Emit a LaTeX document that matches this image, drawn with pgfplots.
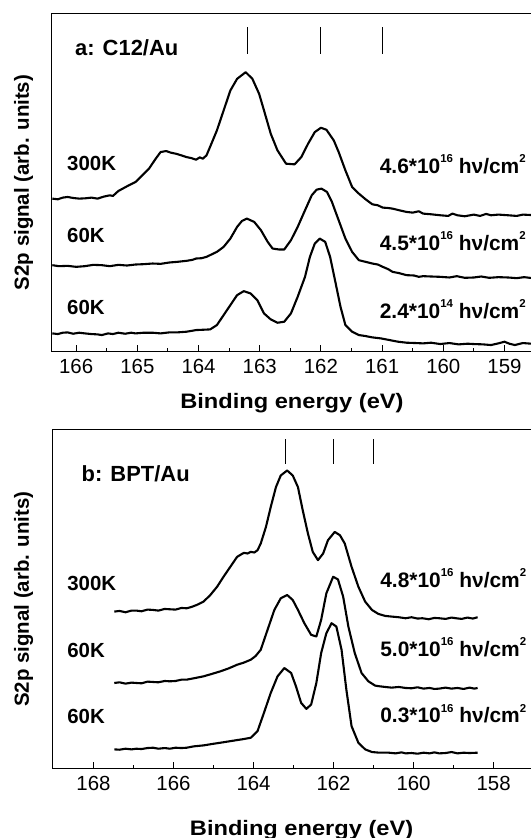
\documentclass[border=0pt]{standalone}
\usepackage{fontspec}
\setmainfont{Liberation Sans}
\usepackage{graphicx}
\usepackage{pgfplots}
\pgfplotsset{compat=1.18}

\newcommand\sups[1]{\raisebox{0.5em}{\fontsize{11.5}{12}\selectfont #1}}

\pgfplotsset{
  xps/.style={
    scale only axis,
    x dir=reverse,
    axis line style={line width=1bp},
    xtick pos=left,
    tick align=inside,
    ytick=\empty,
    minor x tick num=1,
    major tick length=6.7bp, minor tick length=3.3bp,
    every tick/.style={black, line width=1bp},
    /pgf/number format/assume math mode=true,
    /pgf/number format/1000 sep={},
    xticklabel style={font=\fontsize{20.5}{24}\selectfont, yshift=-4.5bp},
  },
  curve/.style={black, line width=2.1bp, no markers, line join=round},
}
\tikzset{
  lab/.style={font=\fontsize{20.5}{24}\selectfont\bfseries, inner sep=0pt},
  ttl/.style={font=\fontsize{22}{24}\selectfont\bfseries, inner sep=0pt},
  dose/.style={font=\fontsize{21}{24}\selectfont\bfseries, inner sep=0pt},
  xlab/.style={font=\fontsize{21}{24}\selectfont\bfseries, inner sep=0pt},
}

\begin{document}
\begin{tikzpicture}
\useasboundingbox (0,0) rectangle (531bp,838bp);

% ---------------- panel a: C12/Au ----------------
\begin{axis}[xps,
  at={(51.7bp,486.3bp)}, anchor=south west,
  width=484.3bp, height=338.4bp,
  xmin=158.485, xmax=166.40, ymin=0, ymax=1017,
  xtick={159,160,...,166},
  xlabel={\scalebox{1.13}[1]{Binding energy (eV)}},
  ylabel={S2p signal (arb. units)},
  every axis x label/.style={xlab, at={(axis description cs:0.496,-0.122)}, anchor=north},
  every axis y label/.style={lab, at={(axis description cs:-0.038,0.5)}, rotate=90, anchor=south},
]
% 300K, 4.6e16
\addplot[curve] coordinates {
(166.39,460) (166.30,458) (166.22,463) (166.14,465) (166.05,462) (165.95,460)
(165.85,461) (165.75,463) (165.65,460) (165.55,466) (165.45,470) (165.40,468)
(165.31,483) (165.14,500) (165.03,510) (164.92,530) (164.81,550) (164.70,580)
(164.62,600) (164.53,603) (164.45,598) (164.37,595) (164.28,590) (164.20,585)
(164.12,582) (164.04,577) (163.98,584) (163.93,580) (163.87,590) (163.79,625)
(163.70,665) (163.59,725) (163.48,785) (163.37,820) (163.23,840) (163.12,820)
(163.01,775) (162.93,725) (162.82,655) (162.71,605) (162.57,565) (162.43,563)
(162.32,585) (162.21,625) (162.10,660) (162.00,673) (161.91,667) (161.79,635)
(161.71,600) (161.60,545) (161.49,495) (161.38,475) (161.27,458) (161.16,443)
(161.07,440) (160.99,433) (160.91,432) (160.83,430) (160.72,425) (160.60,420)
(160.50,418) (160.40,422) (160.33,415) (160.20,413) (160.05,410) (159.92,408)
(159.85,415) (159.77,410) (159.65,407) (159.50,412) (159.40,408) (159.30,414)
(159.22,410) (159.10,412) (158.94,410) (158.80,408) (158.70,412) (158.49,410)
};
% 60K, 4.5e16
\addplot[curve] coordinates {
(166.39,260) (166.28,257) (166.14,258) (166.00,255) (165.86,257) (165.72,261)
(165.58,260) (165.45,257) (165.31,261) (165.17,259) (165.03,262) (164.90,263)
(164.75,265) (164.62,264) (164.48,268) (164.35,270) (164.20,273) (164.10,276)
(164.04,280) (163.95,281) (163.87,285) (163.70,300) (163.59,315) (163.48,340)
(163.37,375) (163.29,393) (163.21,400) (163.09,390) (162.98,365) (162.87,330)
(162.79,310) (162.68,307) (162.60,307) (162.49,335) (162.38,375) (162.26,425)
(162.15,470) (162.07,487) (161.99,490) (161.90,480) (161.82,450) (161.71,395)
(161.60,340) (161.49,300) (161.38,275) (161.27,270) (161.16,265) (161.07,262)
(160.99,255) (160.90,248) (160.83,240) (160.72,236) (160.60,230) (160.48,229)
(160.40,225) (160.33,227) (160.20,226) (160.05,225) (159.90,223) (159.78,227)
(159.65,222) (159.50,223) (159.38,226) (159.25,222) (159.10,224) (158.94,223)
(158.80,221) (158.68,224) (158.49,220)
};
% 60K, 2.4e14
\addplot[curve] coordinates {
(166.39,55) (166.30,53) (166.22,57) (166.14,58) (166.05,54) (165.95,57)
(165.86,55) (165.75,53) (165.65,52) (165.58,50) (165.48,55) (165.40,53)
(165.31,57) (165.20,54) (165.10,57) (165.03,55) (164.90,57) (164.75,57)
(164.62,55) (164.48,58) (164.35,58) (164.20,60) (164.10,63) (164.04,65)
(163.92,66) (163.81,67) (163.70,80) (163.59,110) (163.48,140) (163.37,170)
(163.26,182) (163.15,175) (163.04,155) (162.93,115) (162.82,97) (162.71,87)
(162.60,90) (162.49,115) (162.38,165) (162.26,225) (162.18,285) (162.10,325)
(162.02,340) (161.93,330) (161.85,285) (161.77,215) (161.68,135) (161.60,80)
(161.49,60) (161.38,50) (161.27,47) (161.16,43) (161.02,40) (160.88,35)
(160.74,30) (160.60,27) (160.45,26) (160.33,25) (160.20,27) (160.05,23)
(159.90,26) (159.75,22) (159.60,24) (159.50,23) (159.35,22) (159.22,20)
(159.10,25) (159.00,30) (158.92,24) (158.83,20) (158.70,26) (158.49,23)
};
\draw[line width=1bp] (axis cs:163.2,895) -- (axis cs:163.2,975);
\draw[line width=1bp] (axis cs:162.0,895) -- (axis cs:162.0,975);
\draw[line width=1bp] (axis cs:161.0,895) -- (axis cs:161.0,975);
\node[ttl, anchor=base west] at (axis cs:166.02,889) {a: C12/Au};
\node[lab, anchor=base west] at (axis cs:166.15,545) {300K};
\node[lab, anchor=base west] at (axis cs:166.15,328) {60K};
\node[lab, anchor=base west] at (axis cs:166.15,113) {60K};
\node[dose, anchor=base east] at (axis cs:158.65,536) {4.6*10\sups{16} hν/cm\sups{2}};
\node[dose, anchor=base east] at (axis cs:158.65,305) {4.5*10\sups{16} hν/cm\sups{2}};
\node[dose, anchor=base east] at (axis cs:158.65,101) {2.4*10\sups{14} hν/cm\sups{2}};
\end{axis}

% ---------------- panel b: BPT/Au ----------------
\begin{axis}[xps,
  at={(52.7bp,69.7bp)}, anchor=south west,
  width=483.3bp, height=338.3bp,
  xmin=156.94, xmax=169.02, ymin=0, ymax=1019,
  xtick={158,160,...,168},
  xlabel={\scalebox{1.13}[1]{Binding energy (eV)}},
  ylabel={S2p signal (arb. units)},
  every axis x label/.style={xlab, at={(axis description cs:0.515,-0.152)}, anchor=north},
  every axis y label/.style={lab, at={(axis description cs:-0.0401,0.5)}, rotate=90, anchor=south},
]
% 300K, 4.8e16
\addplot[curve] coordinates {
(167.48,472) (167.35,474) (167.20,470) (167.05,475) (166.93,475) (166.80,473)
(166.65,478) (166.51,477) (166.38,475) (166.22,480) (166.09,479) (165.95,478)
(165.80,483) (165.67,482) (165.55,486) (165.42,492) (165.25,502) (165.08,522)
(164.91,547) (164.75,577) (164.58,607) (164.41,637) (164.30,645) (164.24,649)
(164.15,647) (164.07,652) (163.98,650) (163.90,657) (163.82,677) (163.69,727)
(163.57,787) (163.44,847) (163.32,882) (163.16,897) (163.02,882) (162.89,847)
(162.77,777) (162.64,707) (162.52,652) (162.39,627) (162.26,647) (162.14,687)
(161.97,712) (161.84,702) (161.72,677) (161.55,607) (161.38,547) (161.21,502)
(161.04,477) (160.88,465) (160.71,459) (160.55,457) (160.37,455) (160.20,452)
(160.05,455) (159.90,451) (159.78,452) (159.62,449) (159.48,453) (159.36,452)
(159.20,450) (159.05,454) (158.94,452) (158.80,450) (158.65,454) (158.52,451)
(158.40,455)
};
% 60K, 5.0e16
\addplot[curve] coordinates {
(167.48,257) (167.35,259) (167.20,255) (167.05,258) (166.93,257) (166.80,256)
(166.65,261) (166.51,260) (166.38,259) (166.22,263) (166.09,262) (165.95,263)
(165.80,267) (165.67,267) (165.50,271) (165.25,277) (165.05,284) (164.83,292)
(164.62,301) (164.41,312) (164.25,318) (164.07,327) (163.95,338) (163.82,357)
(163.65,417) (163.48,477) (163.32,512) (163.16,522) (163.02,507) (162.89,477)
(162.73,437) (162.56,402) (162.43,397) (162.31,447) (162.18,527) (162.01,577)
(161.89,569) (161.76,517) (161.63,427) (161.47,347) (161.30,287) (161.13,262)
(160.96,249) (160.85,247) (160.71,245) (160.55,243) (160.37,245) (160.20,242)
(160.05,241) (159.90,244) (159.75,240) (159.60,242) (159.48,239) (159.36,240)
(159.20,243) (159.05,240) (158.90,242) (158.75,239) (158.60,243) (158.48,240)
(158.40,242)
};
% 60K, 0.3e16
\addplot[curve] coordinates {
(167.48,57) (167.35,56) (167.20,59) (167.05,57) (166.93,59) (166.80,58)
(166.65,61) (166.51,62) (166.38,59) (166.22,61) (166.09,59) (165.95,62)
(165.80,61) (165.67,62) (165.50,66) (165.25,69) (165.05,73) (164.83,77)
(164.62,81) (164.41,85) (164.25,88) (164.07,92) (163.90,112) (163.74,167)
(163.57,227) (163.40,277) (163.23,302) (163.06,287) (162.94,247) (162.81,197)
(162.68,179) (162.56,192) (162.43,257) (162.31,347) (162.18,407) (162.05,437)
(161.93,427) (161.80,357) (161.68,237) (161.55,127) (161.38,77) (161.21,57)
(161.04,49) (160.85,47) (160.62,47) (160.45,45) (160.30,48) (160.20,45)
(160.05,46) (159.90,44) (159.75,47) (159.60,45) (159.48,48) (159.36,45)
(159.20,46) (159.05,49) (158.90,45) (158.75,47) (158.60,46) (158.40,47)
};
\draw[line width=1bp] (axis cs:163.2,917) -- (axis cs:163.2,992);
\draw[line width=1bp] (axis cs:162.0,917) -- (axis cs:162.0,992);
\draw[line width=1bp] (axis cs:161.0,917) -- (axis cs:161.0,992);
\node[ttl, anchor=base west] at (axis cs:168.30,865) {b: BPT/Au};
\node[lab, anchor=base west] at (axis cs:168.66,537) {300K};
\node[lab, anchor=base west] at (axis cs:168.66,335) {60K};
\node[lab, anchor=base west] at (axis cs:168.66,135) {60K};
\node[dose, anchor=base east] at (axis cs:157.18,545) {4.8*10\sups{16} hν/cm\sups{2}};
\node[dose, anchor=base east] at (axis cs:157.18,337) {5.0*10\sups{16} hν/cm\sups{2}};
\node[dose, anchor=base east] at (axis cs:157.18,137) {0.3*10\sups{16} hν/cm\sups{2}};
\end{axis}
\end{tikzpicture}
\end{document}
